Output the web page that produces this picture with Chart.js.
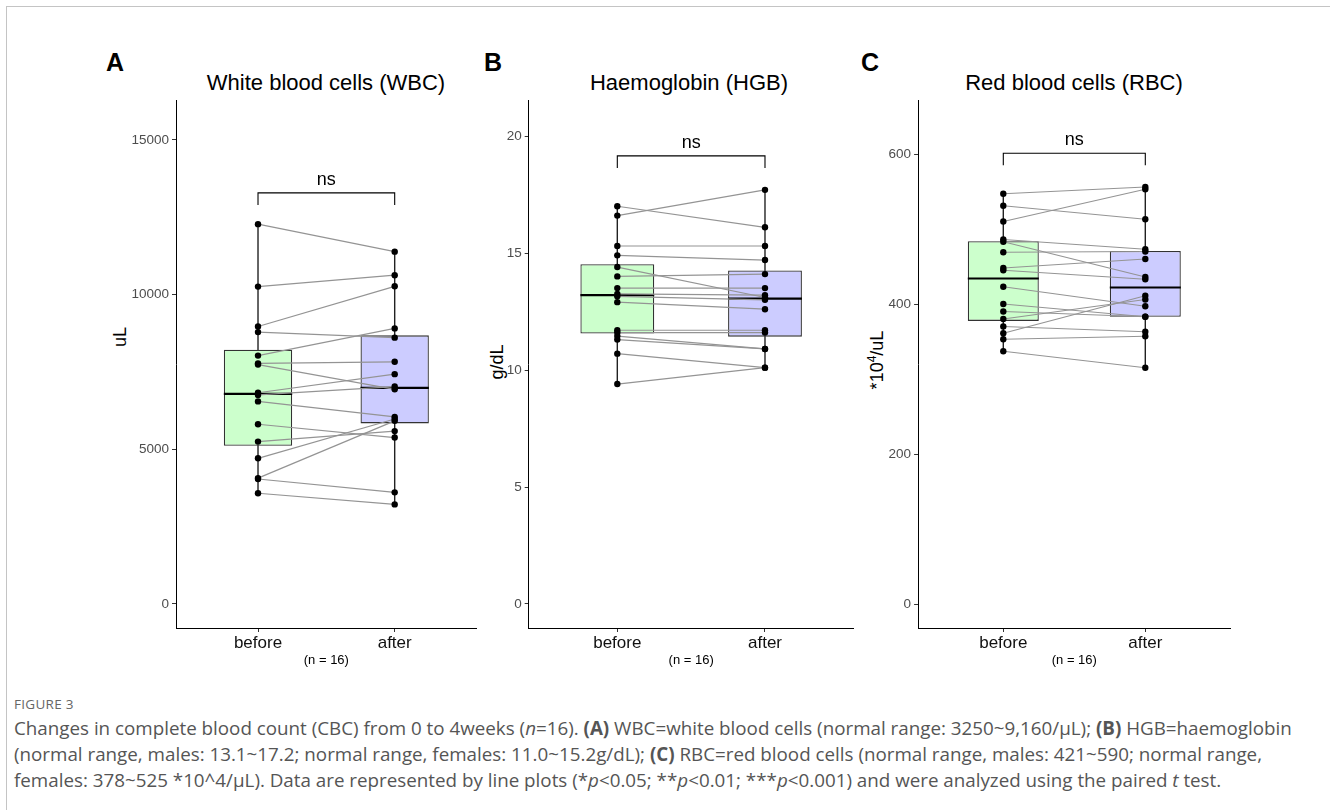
<!DOCTYPE html>
<html>
<head>
<meta charset="utf-8">
<script src="https://cdn.jsdelivr.net/npm/chart.js@4.4.0/dist/chart.umd.min.js"></script>
<style>
  body { margin: 0; width: 1330px; height: 810px; overflow: hidden; position: relative; background: #fff;
         font-family: "Liberation Sans", Arial, sans-serif; }
  .frame { position: absolute; left: 6px; top: 6px; width: 1400px; height: 900px;
           border-left: 1px solid #c4c4c4; border-top: 1px solid #c4c4c4; }
  canvas { position: absolute; }
  .txt { position: absolute; white-space: nowrap; line-height: 1; color: #000; }
  .letter { font-size: 25px; font-weight: bold; }
  .ptitle { font-size: 22px; transform: translateX(-50%); }
  .ytitle { font-size: 18px; transform: translate(-50%, -50%) rotate(-90deg); }
  .cap { position: absolute; left: 14px; white-space: nowrap; font-family: "Open Sans", sans-serif;
         color: #555; font-size: 18.8px; line-height: 1; }
  .fig { position: absolute; left: 14px; top: 695px; font-family: "Open Sans", sans-serif;
         color: #666; font-size: 13.5px; letter-spacing: 0.3px; }
</style>
</head>
<body>
<div class="frame"></div>

<div class="txt letter" style="left:106px; top:50px;">A</div>
<div class="txt letter" style="left:484px; top:50px;">B</div>
<div class="txt letter" style="left:861px; top:50px;">C</div>

<div class="txt ptitle" style="left:326px; top:72px;">White blood cells (WBC)</div>
<div class="txt ptitle" style="left:689px; top:72px;">Haemoglobin (HGB)</div>
<div class="txt ptitle" style="left:1074px; top:72px;">Red blood cells (RBC)</div>

<div class="txt ytitle" style="left:120px; top:337px;">uL</div>
<div class="txt ytitle" style="left:497px; top:362px;">g/dL</div>
<div class="txt ytitle" style="left:876px; top:360px;">*10<sup style="font-size:12px">4</sup>/uL</div>

<canvas id="wbc"></canvas>
<canvas id="hgb"></canvas>
<canvas id="rbc"></canvas>

<div class="fig">FIGURE 3</div>
<div class="cap" style="top:719px;">Changes in complete blood count (CBC) from 0 to 4weeks (<i>n</i>=16). <b>(A)</b> WBC=white blood cells (normal range: 3250~9,160/μL); <b>(B)</b> HGB=haemoglobin</div>
<div class="cap" style="top:745px;">(normal range, males: 13.1~17.2; normal range, females: 11.0~15.2g/dL); <b>(C)</b> RBC=red blood cells (normal range, males: 421~590; normal range,</div>
<div class="cap" style="top:771px;">females: 378~525 *10^4/μL). Data are represented by line plots (*<i>p</i>&lt;0.05; **<i>p</i>&lt;0.01; ***<i>p</i>&lt;0.001) and were analyzed using the paired <i>t</i> test.</div>

<script>
// categories
const groups = ['before', 'after'];
const groupPos = [1, 2];

// paired values, index k of "before" belongs to index k of "after"
const wbcBefore = [12280, 10260, 8970, 8790, 8030, 7780, 7740, 6830, 6760, 6550, 5810, 5250, 4710, 4070, 4040, 3580];
const wbcAfter  = [11390, 10630, 10270, 8610, 8910, 7830, 6940, 7430, 7030, 6050, 5380, 5590, 5980, 5920, 3610, 3220];

const hgbBefore = [17.0, 16.6, 15.3, 14.9, 14.4, 14.0, 13.5, 13.25, 13.15, 12.9, 11.7, 11.6, 11.45, 11.3, 10.7, 9.4];
const hgbAfter  = [16.1, 17.7, 15.3, 14.7, 13.1, 14.1, 13.5, 13.2, 13.0, 12.6, 11.7, 11.6, 10.9, 10.9, 10.1, 10.1];

const rbcBefore = [547, 531, 510, 486, 483, 469, 448, 445, 423, 400, 390, 380, 370, 361, 353, 337];
const rbcAfter  = [556, 513, 553, 473, 436, 470, 460, 433, 397, 383, 383, 406, 363, 411, 357, 315];

// tick labels
const wbcTicks = [0, 5000, 10000, 15000];
const hgbTicks = [0, 5, 10, 15, 20];
const rbcTicks = [0, 200, 400, 600];

// significance brackets [top, tip]
const wbcBracket = [13290, 12900];
const hgbBracket = [19.15, 18.63];
const rbcBracket = [601, 585];

const boxFills = ['#ccffcc', '#ccccff'];

function quantile(sorted, p) {
    const pos = (sorted.length - 1) * p;
    const lo = Math.floor(pos), hi = Math.ceil(pos);
    return sorted[lo] + (sorted[hi] - sorted[lo]) * (pos - lo);
}

function boxStats(values) {
    const s = [...values].sort((a, b) => a - b);
    const q1 = quantile(s, 0.25), med = quantile(s, 0.5), q3 = quantile(s, 0.75);
    const iqr = q3 - q1;
    const lo = s.find(v => v >= q1 - 1.5 * iqr);
    const hi = [...s].reverse().find(v => v <= q3 + 1.5 * iqr);
    return { q1, med, q3, lo, hi };
}

// draws the "ns" above the bracket
const nsLabel = {
    id: 'nsLabel',
    afterDatasetsDraw(chart, args, opts) {
        const { ctx, scales: { x, y } } = chart;
        ctx.save();
        ctx.font = '18px "Liberation Sans", Arial, sans-serif';
        ctx.fillStyle = '#000';
        ctx.textAlign = 'center';
        ctx.textBaseline = 'bottom';
        ctx.fillText(opts.text, x.getPixelForValue(1.5), y.getPixelForValue(opts.at) - 4);
        ctx.restore();
    }
};

function makePanel(id, before, after, ticks, bracket, p) {
    const canvas = document.getElementById(id);
    canvas.width = p.cw; canvas.height = p.ch;
    canvas.style.left = p.cx + 'px'; canvas.style.top = p.cy + 'px';

    const stats = [boxStats(before), boxStats(after)];
    const datasets = [];

    // whiskers
    stats.forEach((s, i) => datasets.push({
        type: 'line', data: [{ x: groupPos[i], y: s.lo }, { x: groupPos[i], y: s.hi }],
        borderColor: '#222', borderWidth: 1.4, pointRadius: 0, order: 6
    }));
    // boxes
    datasets.push({
        type: 'bar', data: stats.map((s, i) => ({ x: groupPos[i], y: [s.q1, s.q3] })),
        backgroundColor: boxFills, borderColor: '#333', borderWidth: 1.3, borderSkipped: false,
        barPercentage: 0.5, categoryPercentage: 1, grouped: false, order: 5
    });
    // medians
    stats.forEach((s, i) => datasets.push({
        type: 'line', data: [{ x: groupPos[i] - 0.25, y: s.med }, { x: groupPos[i] + 0.25, y: s.med }],
        borderColor: '#000', borderWidth: 2.2, pointRadius: 0, order: 4
    }));
    // paired lines
    before.forEach((b, k) => datasets.push({
        type: 'line', data: [{ x: groupPos[0], y: b }, { x: groupPos[1], y: after[k] }],
        borderColor: '#949494', borderWidth: 1.2, pointRadius: 0, order: 3
    }));
    // bracket
    datasets.push({
        type: 'line',
        data: [{ x: 1, y: bracket[1] }, { x: 1, y: bracket[0] }, { x: 2, y: bracket[0] }, { x: 2, y: bracket[1] }],
        borderColor: '#000', borderWidth: 1.1, pointRadius: 0, order: 3
    });
    // points
    datasets.push({
        type: 'scatter',
        data: before.map(v => ({ x: groupPos[0], y: v })).concat(after.map(v => ({ x: groupPos[1], y: v }))),
        backgroundColor: '#000', borderWidth: 0, pointRadius: 3.2, order: 1
    });

    const axisStyle = {
        grid: { display: true, drawOnChartArea: false, offset: false, tickLength: 4, color: '#333', lineWidth: 1 },
        border: { display: true, color: '#000', width: 1 }
    };

    new Chart(canvas, {
        type: 'line',
        data: { datasets },
        options: {
            responsive: false, animation: false,
            layout: { padding: { left: 0, top: 20, right: p.cx + p.cw - p.right, bottom: 0 } },
            plugins: { legend: { display: false }, tooltip: { enabled: false }, nsLabel: { text: 'ns', at: bracket[0] } },
            scales: {
                x: {
                    type: 'linear', min: 0.4, max: 2.6, offset: false, ...axisStyle,
                    afterBuildTicks: s => { s.ticks = groupPos.map(v => ({ value: v })); },
                    afterFit: s => { s.height = 40; },
                    ticks: { callback: v => groups[groupPos.indexOf(v)], color: '#111', font: { size: 17, family: '"Liberation Sans", Arial' }, padding: 1, maxRotation: 0 },
                    title: { display: true, text: '(n = 16)', color: '#000', font: { size: 13, family: '"Liberation Sans", Arial' }, padding: 0 }
                },
                y: {
                    type: 'linear', min: p.ymin, max: p.ymax, ...axisStyle,
                    afterBuildTicks: s => { s.ticks = ticks.map(v => ({ value: v })); },
                    afterFit: s => { s.width = p.left - p.cx; },
                    ticks: { callback: v => String(v), color: '#4d4d4d', font: { size: 13.5, family: '"Liberation Sans", Arial' }, padding: 3 }
                }
            }
        },
        plugins: [nsLabel]
    });
}

makePanel('wbc', wbcBefore, wbcAfter, wbcTicks, wbcBracket,
    { cx: 90, cy: 80, cw: 400, ch: 588, left: 176, right: 476.7, ymin: -776, ymax: 16293 });
makePanel('hgb', hgbBefore, hgbAfter, hgbTicks, hgbBracket,
    { cx: 443, cy: 80, cw: 425, ch: 588, left: 528.7, right: 853.6, ymin: -1.026, ymax: 21.54 });
makePanel('rbc', rbcBefore, rbcAfter, rbcTicks, rbcBracket,
    { cx: 832, cy: 80, cw: 413, ch: 588, left: 918.1, right: 1230.5, ymin: -32, ymax: 672 });
</script>
</body>
</html>
